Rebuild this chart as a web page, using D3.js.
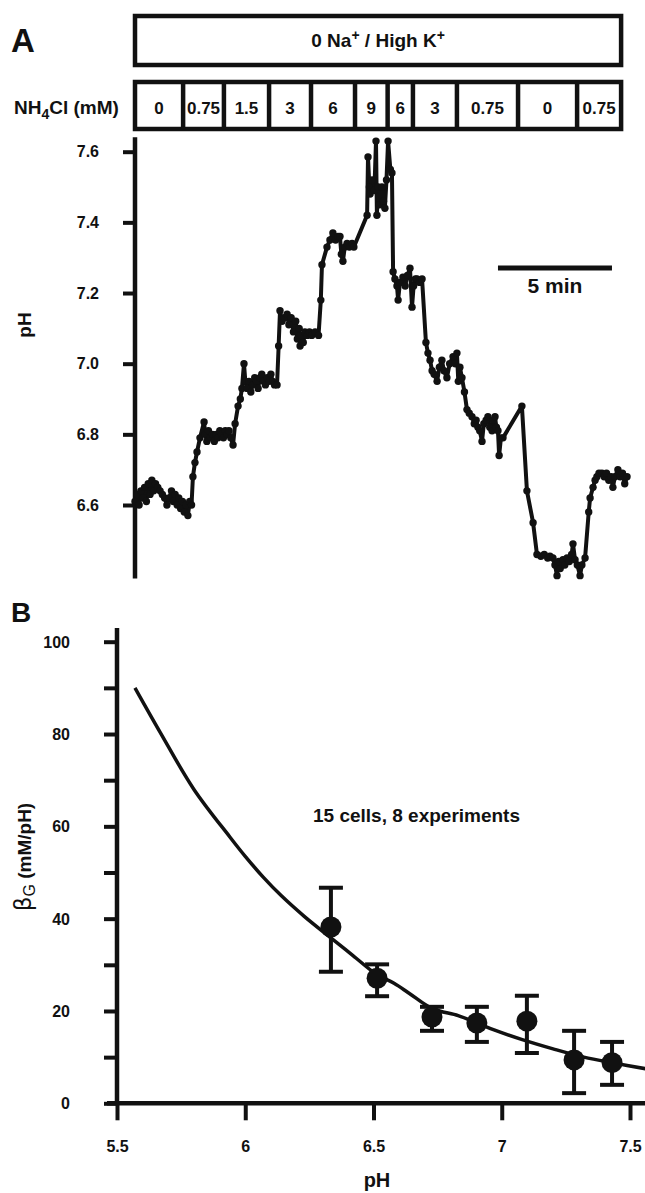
<!DOCTYPE html>
<html><head><meta charset="utf-8">
<script src="https://cdn.jsdelivr.net/npm/d3@7"></script>
<style>
body{margin:0;background:#fff}
svg{display:block}
text{font-family:"Liberation Sans",Arial,Helvetica,sans-serif;font-weight:bold;fill:#111}
</style>
</head><body>
<svg id="c" width="645" height="1193"></svg>
<script>
// ---------- Panel A data ----------
const nh4Bounds = [0, 2.11, 3.90, 5.88, 7.72, 9.65, 11.08, 12.19, 14.12, 16.80, 19.39, 21.32]; // min
const nh4Labels = ["0","0.75","1.5","3","6","9","6","3","0.75","0","0.75"];
const phTicksA = [6.6, 6.8, 7.0, 7.2, 7.4, 7.6];
const phExtentA = [6.392, 7.641];
const scaleBarMin = 5;
const traceMin = [
 0.00,0.10,0.18,0.26,0.34,0.42,0.50,0.58,0.66,0.74,0.82,0.90,1.00,1.10,1.20,1.30,1.40,1.50,1.60,1.68,1.76,1.85,1.92,2.00,2.08,2.16,2.24,2.32,2.40,2.48,
 2.54,2.63,2.72,2.85,3.03,3.08,3.15,3.22,3.30,3.40,3.48,3.56,3.64,3.72,3.80,3.88,3.96,4.04,4.12,4.20,4.30,
 4.39,4.52,4.62,4.69,4.78,4.84,4.92,5.00,5.08,5.16,5.25,5.33,5.40,5.48,5.56,5.64,5.72,5.80,5.88,5.96,6.04,6.12,6.23,
 6.30,6.36,6.45,6.55,6.67,6.75,6.85,6.95,7.05,7.12,7.20,7.24,7.30,7.38,7.45,7.55,7.65,7.75,7.90,8.05,
 8.15,8.20,8.42,8.55,8.68,8.80,8.90,8.99,9.05,9.12,9.20,9.30,9.40,9.52,9.60,
 10.18,10.22,10.28,10.31,10.40,10.50,10.57,10.61,10.66,10.72,10.83,10.90,10.96,11.03,11.10,11.20,11.27,
 11.32,11.40,11.49,11.54,11.62,11.75,11.85,11.95,12.06,12.15,12.22,12.30,12.37,12.48,12.59,
 12.76,12.85,12.94,13.03,13.12,13.25,13.35,13.46,13.55,13.68,13.80,13.95,14.05,14.12,14.18,14.25,14.34,
 14.45,14.56,14.66,14.78,14.88,14.96,15.04,15.12,15.22,15.30,15.40,15.48,15.56,15.66,15.72,15.79,15.85,15.92,15.97,16.05,16.14,
 16.97,17.19,17.46,17.63,
 17.80,17.95,18.10,18.20,18.33,18.42,18.51,18.58,18.65,18.77,18.85,18.95,19.05,19.15,19.21,19.30,19.40,19.52,19.60,19.74,
 19.90,19.96,20.09,20.18,20.26,20.35,20.48,20.58,20.68,20.78,20.88,20.96,21.05,21.18,21.28,21.38,21.48,21.58
];
const tracePH = [
 6.61,6.63,6.60,6.64,6.62,6.65,6.61,6.66,6.63,6.67,6.64,6.66,6.65,6.64,6.63,6.62,6.60,6.62,6.64,6.61,6.63,6.60,6.62,6.59,6.61,6.58,6.60,6.57,6.61,6.60,
 6.68,6.72,6.75,6.79,6.835,6.80,6.78,6.81,6.79,6.80,6.78,6.80,6.79,6.81,6.80,6.79,6.81,6.80,6.81,6.79,6.77,
 6.83,6.88,6.90,6.93,7.00,6.95,6.93,6.95,6.92,6.94,6.96,6.95,6.93,6.96,6.97,6.95,6.94,6.96,6.95,6.97,6.95,6.94,6.94,
 7.05,7.15,7.12,7.13,7.14,7.11,7.13,7.09,7.12,7.07,7.10,7.05,7.08,7.06,7.09,7.08,7.09,7.08,7.09,7.08,
 7.18,7.28,7.33,7.35,7.37,7.35,7.36,7.36,7.31,7.29,7.33,7.34,7.33,7.34,7.33,
 7.42,7.585,7.50,7.48,7.52,7.49,7.63,7.42,7.50,7.45,7.50,7.46,7.44,7.52,7.63,7.55,7.54,
 7.26,7.24,7.22,7.18,7.23,7.245,7.22,7.25,7.27,7.16,7.22,7.24,7.24,7.23,7.24,
 7.06,7.03,7.01,6.98,6.97,6.95,6.99,7.01,6.98,6.96,7.00,7.02,7.00,7.03,6.95,6.99,6.96,
 6.92,6.87,6.86,6.85,6.83,6.84,6.82,6.81,6.78,6.83,6.84,6.85,6.82,6.81,6.84,6.85,6.82,6.81,6.74,6.79,6.79,
 6.88,6.64,6.55,6.46,
 6.455,6.46,6.45,6.455,6.45,6.43,6.40,6.44,6.42,6.445,6.43,6.45,6.44,6.46,6.49,6.445,6.43,6.40,6.43,6.45,
 6.58,6.62,6.65,6.67,6.68,6.69,6.69,6.68,6.69,6.67,6.68,6.65,6.68,6.70,6.68,6.69,6.66,6.68
];

// ---------- Panel B data ----------
const bufPH    = [6.334, 6.514, 6.728, 6.903, 7.098, 7.282, 7.430];
const bufMean  = [38.2, 27.1, 18.7, 17.4, 17.8, 9.4, 8.8];
const bufUpper = [46.7, 30.1, 20.9, 20.9, 23.3, 15.7, 13.3];
const bufLower = [28.5, 23.2, 15.7, 13.3, 10.9, 2.2, 4.0];
const fitPH   = [5.57,5.67,5.80,5.94,6.00,6.07,6.14,6.23,6.33,6.42,6.51,6.58,6.64,6.73,6.83,6.90,6.97,7.08,7.20,7.32,7.44,7.56];
const fitBeta = [90,80.2,68,57.7,53.5,49,45,40.5,36,32,28,26,23.8,20.5,19,17.5,15.9,13.8,11.8,10,8.7,7.5];
const xTicksB = [5.5, 6, 6.5, 7, 7.5];
const yTicksB = [0,10,20,30,40,50,60,70,80,90,100];
const yLabelsB = [0,20,40,60,80,100];

const svg = d3.select("#c");
const INK = "#111";

// ================= PANEL A =================
const xA = d3.scaleLinear().domain([0, 1]).range([135, 135 + 22.8]);
const yA = d3.scaleLinear().domain([6.6, 7.6]).range([505, 151.7]);

svg.append("text").attr("x", 11).attr("y", 52).attr("font-size", 33).text("A");

// solution box
svg.append("rect").attr("x", xA(nh4Bounds[0])).attr("y", 16)
  .attr("width", xA(nh4Bounds[nh4Bounds.length-1]) - xA(nh4Bounds[0])).attr("height", 49)
  .attr("fill", "none").attr("stroke", INK).attr("stroke-width", 4.5);
const tb = svg.append("text").attr("x", (xA(nh4Bounds[0]) + xA(nh4Bounds[nh4Bounds.length-1]))/2)
  .attr("y", 47).attr("text-anchor", "middle").attr("font-size", 19);
tb.append("tspan").text("0 Na");
tb.append("tspan").attr("dy", -7).attr("font-size", 14).text("+");
tb.append("tspan").attr("dy", 7).text(" / High K");
tb.append("tspan").attr("dy", -7).attr("font-size", 14).text("+");

// NH4Cl row
const nl = svg.append("text").attr("x", 14).attr("y", 114).attr("font-size", 19);
nl.append("tspan").text("NH");
nl.append("tspan").attr("dy", 5).attr("font-size", 14).text("4");
nl.append("tspan").attr("dy", -5).text("Cl (mM)");

svg.append("rect").attr("x", xA(nh4Bounds[0])).attr("y", 82)
  .attr("width", xA(nh4Bounds[nh4Bounds.length-1]) - xA(nh4Bounds[0])).attr("height", 47)
  .attr("fill", "none").attr("stroke", INK).attr("stroke-width", 4.5);
svg.append("g").selectAll("line").data(nh4Bounds.slice(1, -1)).join("line")
  .attr("x1", d => xA(d)).attr("x2", d => xA(d)).attr("y1", 82).attr("y2", 129)
  .attr("stroke", INK).attr("stroke-width", 4.5);
svg.append("g").selectAll("text").data(nh4Labels).join("text")
  .attr("x", (d, i) => (xA(nh4Bounds[i]) + xA(nh4Bounds[i+1]))/2)
  .attr("y", 114).attr("text-anchor", "middle").attr("font-size", 17).text(d => d);

// y axis A
const axA = svg.append("g").attr("transform", "translate(135,0)")
  .call(d3.axisLeft(yA).tickValues(phTicksA).tickSize(12).tickPadding(24).tickFormat(d3.format(".1f")));
axA.select(".domain").remove();
axA.selectAll(".tick line").attr("stroke", INK).attr("stroke-width", 4);
axA.selectAll(".tick text").attr("font-size", 16).attr("font-family", null).attr("fill", INK);
svg.append("line").attr("x1", 135).attr("x2", 135).attr("y1", yA(phExtentA[1])).attr("y2", yA(phExtentA[0]))
  .attr("stroke", INK).attr("stroke-width", 4.5);
svg.append("text").attr("transform", "translate(31,325) rotate(-90)")
  .attr("text-anchor", "middle").attr("font-size", 19).text("pH");

// trace
const pts = traceMin.map((t, i) => [xA(t), yA(tracePH[i])]);
svg.append("path").attr("d", d3.line()(pts)).attr("fill", "none")
  .attr("stroke", INK).attr("stroke-width", 4).attr("stroke-linejoin", "round");
svg.append("g").selectAll("circle").data(pts).join("circle")
  .attr("cx", d => d[0]).attr("cy", d => d[1]).attr("r", 3.7).attr("fill", INK);

// scale bar
const sb0 = 15.92;
svg.append("line").attr("x1", xA(sb0)).attr("x2", xA(sb0 + scaleBarMin)).attr("y1", 268).attr("y2", 268)
  .attr("stroke", INK).attr("stroke-width", 5);
svg.append("text").attr("x", xA(sb0 + scaleBarMin/2)).attr("y", 293).attr("text-anchor", "middle")
  .attr("font-size", 21).text("5 min");

// ================= PANEL B =================
const xB = d3.scaleLinear().domain([5.5, 7.5]).range([117, 630]);
const yB = d3.scaleLinear().domain([0, 100]).range([1103.3, 641.7]);

svg.append("text").attr("x", 11).attr("y", 622).attr("font-size", 28).text("B");

// y axis B
const axB = svg.append("g").attr("transform", "translate(117,0)")
  .call(d3.axisLeft(yB).tickValues(yTicksB).tickSize(13).tickFormat(() => ""));
axB.select(".domain").remove();
axB.selectAll(".tick line").attr("stroke", INK).attr("stroke-width", 4);
svg.append("g").selectAll("text").data(yLabelsB).join("text")
  .attr("x", 70).attr("y", d => yB(d) + 6).attr("text-anchor", "end").attr("font-size", 16).text(d => d);
svg.append("line").attr("x1", 117).attr("x2", 117).attr("y1", 628).attr("y2", yB(0))
  .attr("stroke", INK).attr("stroke-width", 4.5);

// x axis B
const axX = svg.append("g").attr("transform", `translate(0,${yB(0)})`)
  .call(d3.axisBottom(xB).tickValues(xTicksB).tickSize(17).tickPadding(20).tickFormat(d3.format("")));
axX.select(".domain").remove();
axX.selectAll(".tick line").attr("stroke", INK).attr("stroke-width", 4);
axX.selectAll(".tick text").attr("font-size", 16).attr("font-family", null).attr("fill", INK);
svg.append("line").attr("x1", 107).attr("x2", 645).attr("y1", yB(0)).attr("y2", yB(0))
  .attr("stroke", INK).attr("stroke-width", 4.5);
svg.append("text").attr("x", 377).attr("y", 1187).attr("text-anchor", "middle").attr("font-size", 20).text("pH");

// y label
const yl = svg.append("text").attr("transform", "translate(31,857) rotate(-90)").attr("text-anchor", "middle");
yl.append("tspan").attr("font-weight", "normal").attr("font-size", 23).attr("font-family", "'DejaVu Sans',sans-serif").text("β");
yl.append("tspan").attr("font-weight", "normal").attr("font-size", 16).attr("dy", 4).text("G");
yl.append("tspan").attr("font-size", 19).attr("dy", -4).text(" (mM/pH)");

// annotation
svg.append("text").attr("x", 313).attr("y", 822).attr("font-size", 19).text("15 cells, 8 experiments");

// fit curve
const fitPts = fitPH.map((p, i) => [xB(p), yB(fitBeta[i])]);
svg.append("path").attr("d", d3.line().curve(d3.curveCatmullRom)(fitPts)).attr("fill", "none")
  .attr("stroke", INK).attr("stroke-width", 3.5);

// error bars + points
const eb = svg.append("g");
bufPH.forEach((p, i) => {
  const x = xB(p);
  eb.append("line").attr("x1", x).attr("x2", x).attr("y1", yB(bufUpper[i])).attr("y2", yB(bufLower[i]))
    .attr("stroke", INK).attr("stroke-width", 4);
  [bufUpper[i], bufLower[i]].forEach(v => {
    eb.append("line").attr("x1", x - 12).attr("x2", x + 12).attr("y1", yB(v)).attr("y2", yB(v))
      .attr("stroke", INK).attr("stroke-width", 4);
  });
  eb.append("circle").attr("cx", x).attr("cy", yB(bufMean[i])).attr("r", 10.5).attr("fill", INK);
});
</script>
</body></html>
